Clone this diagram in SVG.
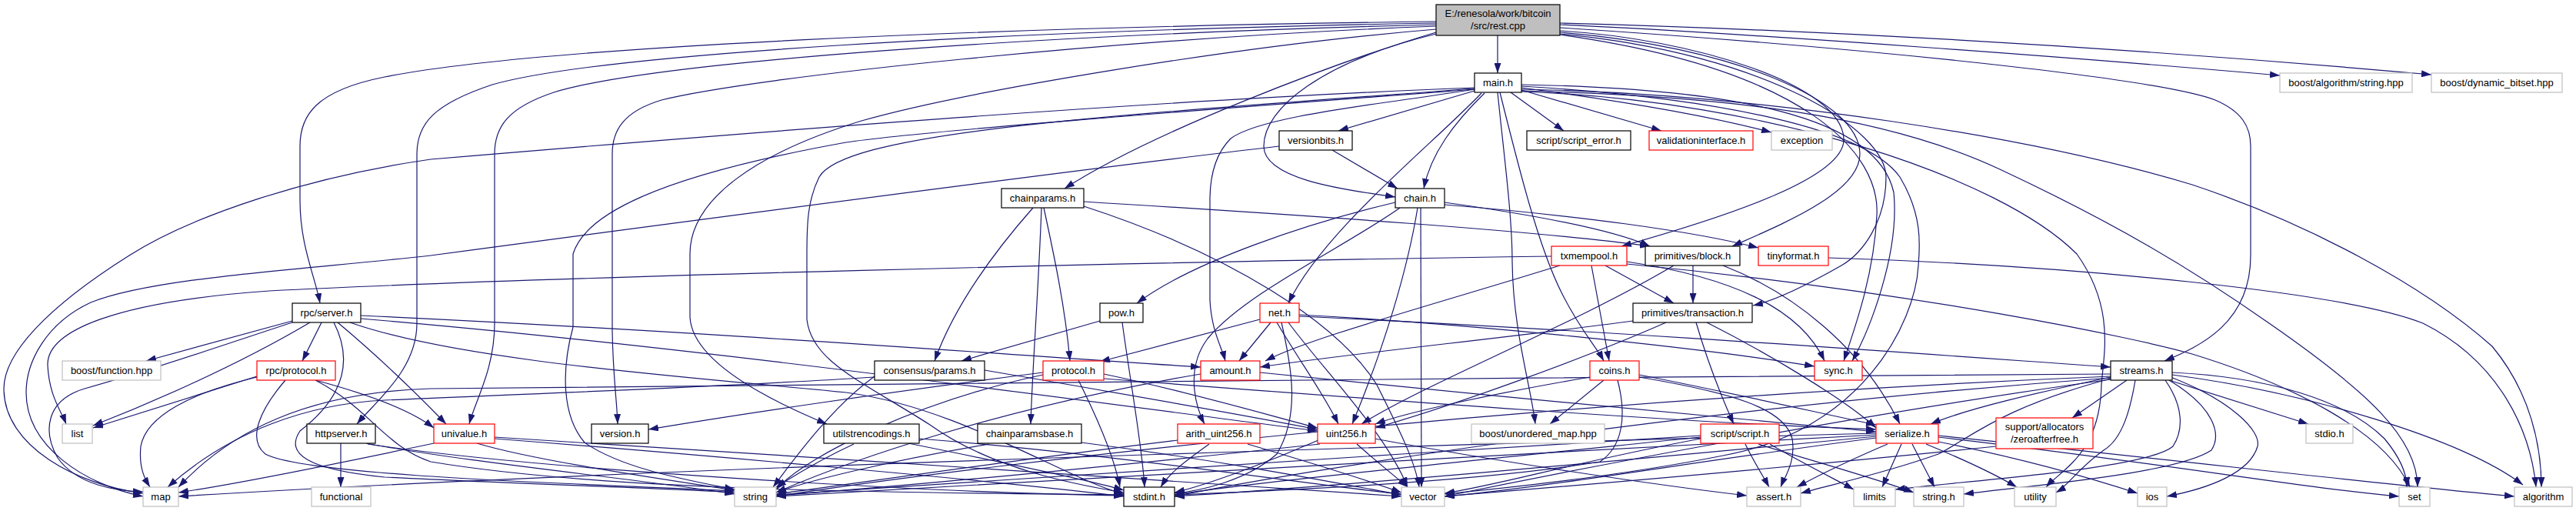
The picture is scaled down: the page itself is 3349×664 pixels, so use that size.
<svg xmlns="http://www.w3.org/2000/svg" width="3349" height="664" viewBox="0 0 3349 664">
<defs>
<marker id="ah" viewBox="0 0 13 9" refX="13" refY="4.5" markerWidth="13" markerHeight="9" markerUnits="userSpaceOnUse" orient="auto"><path d="M0,0 L13,4.5 L0,9 z" fill="#191970"/></marker>
</defs>
<style>
.e path{fill:none;stroke:#191970;stroke-width:1.2;marker-end:url(#ah)}
rect{fill:#fff;stroke:#000;stroke-width:1.2}
.r rect{stroke:#ff0000}
.g rect{stroke:#bfbfbf}
.root rect{fill:#bfbfbf}
text{font-family:"Liberation Sans",Arial,sans-serif;font-size:13px;text-anchor:middle;fill:#000}
</style>
<rect x="0" y="0" width="3349" height="664" style="fill:#fff;stroke:none"/>
<g class="e" id="edges">
<path d="M1947,46 L1947,95"/>
<path d="M1867,42 C1740,80 1500,170 1384,245"/>
<path d="M1867,44 C1720,80 1643,140 1643,190 C1643,235 1760,248 1814,256"/>
<path d="M1867,28 C1300,35 700,60 500,100 C410,118 390,150 390,190 L390,260 C390,320 410,360 416,394"/>
<path d="M1867,30 C1300,40 780,70 640,110 C565,135 542,160 542,200 L542,420 C542,480 490,520 464,551"/>
<path d="M1867,32 C1350,45 850,80 720,120 C660,140 643,165 643,200 L643,420 C643,480 618,520 610,551"/>
<path d="M1867,34 C1450,50 980,100 860,130 C810,145 796,170 796,200 L796,430 C797,490 802,520 803,551"/>
<path d="M1867,38 C1600,60 1250,120 1120,157 C980,200 897,260 897,330 L897,412 C900,470 1000,520 1075,551"/>
<path d="M2028,40 C2200,50 2394,110 2397,180 C2400,230 2250,280 2108,320"/>
<path d="M2028,42 C2250,60 2418,130 2418,200 C2418,250 2320,290 2252,320"/>
<path d="M2028,44 C2300,70 2452,170 2452,230 C2452,290 2420,330 2394,345 C2350,370 2310,390 2279,397"/>
<path d="M2028,45 C2350,90 2445,200 2440,280 C2436,360 2410,430 2397,469"/>
<path d="M2028,36 C2400,60 2800,100 2880,130 C2915,145 2926,165 2926,190 L2926,332 C2926,420 2860,450 2814,469"/>
<path d="M2028,32 C2300,45 2700,75 2964,98"/>
<path d="M2028,30 C2400,40 2800,65 3161,97"/>
<path d="M1917,118 L1740,170"/>
<path d="M1930,121 C1890,160 1860,200 1851,245"/>
<path d="M1964,120 L2033,170"/>
<path d="M1978,117 L2160,170"/>
<path d="M1978,114 C2100,130 2220,150 2303,172"/>
<path d="M1917,116 C1800,135 1640,150 1600,180 C1580,200 1573,230 1573,260 L1573,390 C1575,430 1588,450 1593,469"/>
<path d="M1926,121 C1860,190 1720,300 1675,394"/>
<path d="M1947,120 C1955,200 1966,280 1966,340 C1967,430 1990,500 1996,551"/>
<path d="M1950,120 C1975,220 2000,320 2030,380 C2055,430 2075,450 2085,469"/>
<path d="M1978,110 C2250,115 2440,150 2462,250 C2470,330 2430,430 2408,469"/>
<path d="M1978,112 C2200,125 2420,160 2470,230 C2500,280 2496,320 2494,345 C2490,420 2420,560 2240,592 C2100,620 1950,635 1878,642"/>
<path d="M1917,114 C1500,130 1000,170 560,207 C400,230 250,280 168,332 C60,400 5,460 5,505 C5,580 100,630 186,641"/>
<path d="M1917,116 C1600,140 1200,170 1100,185 C850,230 760,280 745,330 L745,425 C730,480 730,540 760,575 C810,610 900,625 955,636"/>
<path d="M1917,115 C1450,150 1100,170 1065,230 C1050,260 1049,290 1049,330 L1049,415 C1055,470 1120,495 1209,552 C1290,610 1400,630 1461,640"/>
<path d="M1978,118 C2250,125 2450,150 2600,220 C2750,290 2850,350 2950,420 C3080,510 3143,570 3143,633"/>
<path d="M1978,116 C2300,122 2650,180 2850,240 C3000,290 3150,370 3240,450 C3290,510 3304,580 3304,633"/>
<path d="M1978,119 C2300,130 2600,230 2700,330 C2750,400 2735,460 2732,500 C2730,590 2680,610 2660,633"/>
<path d="M1732,195 L1817,245"/>
<path d="M1663,190 C1400,220 800,300 560,332 C400,350 200,360 118,393 C60,420 34,470 34,510 C34,580 110,630 186,645"/>
<path d="M1343,270 C1290,330 1240,400 1215,469"/>
<path d="M1357,270 C1370,330 1385,400 1391,469"/>
<path d="M1354,270 C1350,380 1342,480 1340,551"/>
<path d="M1409,262 C1700,280 2000,300 2145,320"/>
<path d="M1409,268 C1600,330 1740,420 1790,500 C1820,560 1840,600 1845,633"/>
<path d="M1814,263 C1700,290 1550,340 1478,394"/>
<path d="M1820,270 C1750,320 1620,380 1570,440 C1540,480 1555,530 1566,551"/>
<path d="M1843,270 C1830,350 1800,450 1758,551"/>
<path d="M1847,270 L1848,633"/>
<path d="M1878,263 C2000,280 2100,300 2145,320"/>
<path d="M1878,266 C2050,280 2200,300 2286,322"/>
<path d="M2017,333 C1500,340 700,360 350,378 C150,392 60,430 62,475 C64,515 80,535 86,551"/>
<path d="M2028,345 C1850,400 1700,440 1645,469"/>
<path d="M2069,345 L2092,469"/>
<path d="M2087,345 L2176,394"/>
<path d="M2115,340 C2250,360 2340,400 2372,469"/>
<path d="M2115,343 C2500,380 2780,440 2850,460 C2980,500 3100,560 3133,633"/>
<path d="M2201,345 L2201,394"/>
<path d="M2176,345 C2050,420 1850,500 1770,551"/>
<path d="M2240,345 C2330,380 2420,450 2470,551"/>
<path d="M2377,335 C2700,345 3050,380 3150,420 C3250,470 3290,560 3297,633"/>
<path d="M1430,417 L1250,469"/>
<path d="M1459,419 C1470,500 1485,580 1488,633"/>
<path d="M1638,415 L1430,470"/>
<path d="M1652,419 L1611,469"/>
<path d="M1660,419 C1690,470 1720,510 1740,551"/>
<path d="M1666,419 C1680,480 1690,540 1660,590 C1620,625 1560,638 1527,641"/>
<path d="M1689,409 C1900,420 2200,450 2359,476"/>
<path d="M1689,411 C2100,430 2500,460 2744,477"/>
<path d="M1675,419 C1720,480 1800,560 1830,633"/>
<path d="M2123,417 C1950,440 1750,460 1638,477"/>
<path d="M2205,419 C2220,470 2240,520 2254,551"/>
<path d="M2219,419 C2300,460 2400,520 2439,556"/>
<path d="M2166,419 C2050,470 1880,530 1788,556"/>
<path d="M380,417 L190,469"/>
<path d="M418,419 L393,469"/>
<path d="M403,419 C300,480 180,530 121,553"/>
<path d="M380,419 C300,445 200,480 110,505 C60,520 55,560 75,595 C100,630 150,638 186,639"/>
<path d="M439,419 C500,470 550,520 580,551"/>
<path d="M434,419 C455,460 455,510 390,560 C370,590 400,610 500,620 C700,630 880,635 955,640"/>
<path d="M455,419 C600,470 900,490 1100,510 C1250,530 1380,620 1461,642"/>
<path d="M469,410 C900,430 1300,460 1561,477"/>
<path d="M469,414 C900,450 1400,520 1713,560"/>
<path d="M334,489 L121,556"/>
<path d="M334,490 C250,510 190,540 183,580 C180,610 190,625 195,633"/>
<path d="M410,494 C470,510 530,530 564,556"/>
<path d="M371,494 C340,530 320,570 345,590 C400,620 800,630 955,638"/>
<path d="M410,494 C480,530 500,580 560,600 C800,640 1200,640 1461,643"/>
<path d="M443,576 L443,633"/>
<path d="M476,576 C600,600 850,625 955,642"/>
<path d="M478,577 C700,610 1200,640 1461,644"/>
<path d="M564,576 C450,600 300,630 232,640"/>
<path d="M620,576 C700,600 880,625 955,637"/>
<path d="M643,570 C900,590 1300,625 1461,645"/>
<path d="M643,568 C1000,590 1600,630 1822,645"/>
<path d="M1110,577 C1060,600 1030,620 1009,633"/>
<path d="M1181,576 C1300,600 1420,625 1461,637"/>
<path d="M1195,570 C1450,590 1700,630 1822,642"/>
<path d="M1286,577 C1150,600 1050,625 1009,640"/>
<path d="M1406,575 C1600,600 1750,630 1822,643"/>
<path d="M1137,490 C900,505 600,515 500,520 C400,525 300,560 218,633"/>
<path d="M1137,489 C1080,530 1030,600 1005,633"/>
<path d="M1280,481 C1450,510 1620,540 1713,558"/>
<path d="M1356,487 C1200,520 1050,590 1009,636"/>
<path d="M1402,494 C1430,550 1450,600 1456,633"/>
<path d="M1435,486 C1550,510 1650,540 1713,556"/>
<path d="M1435,492 C1800,520 2200,550 2439,558"/>
<path d="M1356,484 C1150,510 950,540 843,558"/>
<path d="M1638,484 C1900,510 2250,545 2439,561"/>
<path d="M1561,486 C1300,530 1100,600 1009,640"/>
<path d="M2085,494 L2015,551"/>
<path d="M2067,490 C1950,510 1830,535 1788,551"/>
<path d="M2131,487 C2250,510 2380,540 2439,552"/>
<path d="M2131,490 C2250,510 2320,530 2330,570 C2335,600 2320,620 2315,633"/>
<path d="M2103,494 C2115,540 2110,580 2080,600 C1900,630 1600,640 1527,643"/>
<path d="M2765,494 L2694,543"/>
<path d="M2744,490 C2650,510 2560,530 2510,551"/>
<path d="M2744,492 C2600,530 2560,570 2520,590 C2450,615 2380,630 2341,641"/>
<path d="M2815,494 C2840,530 2838,560 2825,580 C2790,610 2550,625 2464,636"/>
<path d="M2820,494 C2880,530 2888,565 2875,585 C2830,615 2650,630 2553,642"/>
<path d="M2776,494 C2770,530 2760,570 2735,585 C2700,610 2690,630 2673,640"/>
<path d="M2822,490 C2900,520 2940,560 2935,580 C2925,615 2870,635 2817,645"/>
<path d="M2823,495 L3001,551"/>
<path d="M2824,484 C2950,490 3050,520 3100,570 C3125,600 3129,620 3129,633"/>
<path d="M2824,487 C3000,510 3200,570 3280,630"/>
<path d="M2744,486 C2000,490 1000,500 560,505 C400,510 300,560 232,633"/>
<path d="M2744,489 C2000,520 1300,600 1009,645"/>
<path d="M2744,491 C2200,530 1700,610 1527,645"/>
<path d="M2744,493 C2400,540 2000,620 1878,645"/>
<path d="M2269,577 C2280,600 2293,620 2300,633"/>
<path d="M2301,577 C2340,600 2390,625 2410,636"/>
<path d="M2286,577 C2360,600 2450,625 2488,640"/>
<path d="M2211,566 C1800,590 1300,625 1009,643"/>
<path d="M2211,568 C1900,600 1600,630 1527,643"/>
<path d="M2211,570 C2050,600 1950,630 1878,641"/>
<path d="M2454,577 C2400,600 2360,620 2336,633"/>
<path d="M2472,577 L2447,633"/>
<path d="M2486,577 L2515,633"/>
<path d="M2504,577 C2560,600 2600,620 2622,633"/>
<path d="M2520,574 C2650,600 2730,625 2779,641"/>
<path d="M2520,568 C2800,600 3000,635 3119,645"/>
<path d="M2520,566 C2850,600 3100,630 3269,645"/>
<path d="M2439,563 C1800,580 800,610 232,645"/>
<path d="M2439,565 C2000,590 1300,625 1009,645"/>
<path d="M2439,567 C2100,600 1700,635 1527,645"/>
<path d="M2439,569 C2200,600 2000,635 1878,645"/>
<path d="M2595,580 C2300,610 2000,635 1878,645"/>
<path d="M1531,572 C1300,600 1100,630 1009,642"/>
<path d="M1572,577 C1540,600 1520,615 1509,633"/>
<path d="M1622,577 C1700,600 1780,625 1822,640"/>
<path d="M1716,577 C1500,600 1200,630 1009,644"/>
<path d="M1714,572 C1650,600 1570,630 1527,640"/>
<path d="M1764,577 C1790,600 1815,620 1830,633"/>
<path d="M1787,570 C1950,600 2150,630 2271,644"/>
</g>
<g id="root" class="root"><rect x="1867" y="6" width="161" height="40"/><text x="1947.5" y="22">E:/renesola/work/bitcoin</text><text x="1947.5" y="38">/src/rest.cpp</text></g>
<g id="main"><rect x="1917" y="95" width="61" height="25"/><text x="1947.5" y="112">main.h</text></g>
<g id="algstr" class="g"><rect x="2964" y="95" width="172" height="25"/><text x="3050" y="112">boost/algorithm/string.hpp</text></g>
<g id="dynbit" class="g"><rect x="3161" y="95" width="170" height="25"/><text x="3246" y="112">boost/dynamic_bitset.hpp</text></g>
<g id="versionbits"><rect x="1663" y="170" width="95" height="25"/><text x="1710.5" y="187">versionbits.h</text></g>
<g id="script_error"><rect x="1985" y="170" width="135" height="25"/><text x="2052.5" y="187">script/script_error.h</text></g>
<g id="valint" class="r"><rect x="2144" y="170" width="135" height="25"/><text x="2211.5" y="187">validationinterface.h</text></g>
<g id="exception" class="g"><rect x="2303" y="170" width="79" height="25"/><text x="2342.5" y="187">exception</text></g>
<g id="chainparams"><rect x="1302" y="245" width="107" height="25"/><text x="1355.5" y="262">chainparams.h</text></g>
<g id="chain"><rect x="1814" y="245" width="64" height="25"/><text x="1846" y="262">chain.h</text></g>
<g id="txmempool" class="r"><rect x="2017" y="320" width="98" height="25"/><text x="2066" y="337">txmempool.h</text></g>
<g id="block"><rect x="2139" y="320" width="123" height="25"/><text x="2200.5" y="337">primitives/block.h</text></g>
<g id="tinyformat" class="r"><rect x="2286" y="320" width="91" height="25"/><text x="2331.5" y="337">tinyformat.h</text></g>
<g id="rpcserver"><rect x="380" y="394" width="89" height="25"/><text x="424.5" y="411">rpc/server.h</text></g>
<g id="pow"><rect x="1430" y="394" width="56" height="25"/><text x="1458" y="411">pow.h</text></g>
<g id="net" class="r"><rect x="1638" y="394" width="51" height="25"/><text x="1663.5" y="411">net.h</text></g>
<g id="tx"><rect x="2123" y="394" width="155" height="25"/><text x="2200.5" y="411">primitives/transaction.h</text></g>
<g id="boostfn" class="g"><rect x="81" y="469" width="128" height="25"/><text x="145" y="486">boost/function.hpp</text></g>
<g id="rpcproto" class="r"><rect x="334" y="469" width="102" height="25"/><text x="385" y="486">rpc/protocol.h</text></g>
<g id="params"><rect x="1137" y="469" width="143" height="25"/><text x="1208.5" y="486">consensus/params.h</text></g>
<g id="protocol" class="r"><rect x="1356" y="469" width="79" height="25"/><text x="1395.5" y="486">protocol.h</text></g>
<g id="amount" class="r"><rect x="1561" y="469" width="77" height="25"/><text x="1599.5" y="486">amount.h</text></g>
<g id="coins" class="r"><rect x="2067" y="469" width="64" height="25"/><text x="2099" y="486">coins.h</text></g>
<g id="sync" class="r"><rect x="2359" y="469" width="62" height="25"/><text x="2390" y="486">sync.h</text></g>
<g id="streams"><rect x="2744" y="469" width="80" height="25"/><text x="2784" y="486">streams.h</text></g>
<g id="list" class="g"><rect x="81" y="551" width="39" height="25"/><text x="100.5" y="568">list</text></g>
<g id="httpserver"><rect x="399" y="551" width="89" height="25"/><text x="443.5" y="568">httpserver.h</text></g>
<g id="univalue" class="r"><rect x="564" y="551" width="79" height="25"/><text x="603.5" y="568">univalue.h</text></g>
<g id="version"><rect x="769" y="551" width="74" height="25"/><text x="806" y="568">version.h</text></g>
<g id="utilstr"><rect x="1071" y="551" width="124" height="25"/><text x="1133" y="568">utilstrencodings.h</text></g>
<g id="cpbase"><rect x="1271" y="551" width="135" height="25"/><text x="1338.5" y="568">chainparamsbase.h</text></g>
<g id="arith" class="r"><rect x="1531" y="551" width="107" height="25"/><text x="1584.5" y="568">arith_uint256.h</text></g>
<g id="uint256" class="r"><rect x="1713" y="551" width="75" height="25"/><text x="1750.5" y="568">uint256.h</text></g>
<g id="unordered" class="g"><rect x="1913" y="551" width="173" height="25"/><text x="1999.5" y="568">boost/unordered_map.hpp</text></g>
<g id="script" class="r"><rect x="2211" y="551" width="102" height="25"/><text x="2262" y="568">script/script.h</text></g>
<g id="serialize" class="r"><rect x="2439" y="551" width="81" height="25"/><text x="2479.5" y="568">serialize.h</text></g>
<g id="zaf" class="r"><rect x="2595" y="543" width="126" height="40"/><text x="2658" y="559">support/allocators</text><text x="2658" y="575">/zeroafterfree.h</text></g>
<g id="stdio" class="g"><rect x="2998" y="551" width="61" height="25"/><text x="3028.5" y="568">stdio.h</text></g>
<g id="map" class="g"><rect x="186" y="633" width="46" height="25"/><text x="209" y="650">map</text></g>
<g id="functional" class="g"><rect x="405" y="633" width="77" height="25"/><text x="443.5" y="650">functional</text></g>
<g id="string" class="g"><rect x="955" y="633" width="54" height="25"/><text x="982" y="650">string</text></g>
<g id="stdint"><rect x="1461" y="633" width="66" height="25"/><text x="1494" y="650">stdint.h</text></g>
<g id="vector" class="g"><rect x="1822" y="633" width="56" height="25"/><text x="1850" y="650">vector</text></g>
<g id="assert" class="g"><rect x="2271" y="633" width="70" height="25"/><text x="2306" y="650">assert.h</text></g>
<g id="limits" class="g"><rect x="2410" y="633" width="54" height="25"/><text x="2437" y="650">limits</text></g>
<g id="stringh" class="g"><rect x="2488" y="633" width="65" height="25"/><text x="2520.5" y="650">string.h</text></g>
<g id="utility" class="g"><rect x="2619" y="633" width="54" height="25"/><text x="2646" y="650">utility</text></g>
<g id="ios" class="g"><rect x="2779" y="633" width="38" height="25"/><text x="2798" y="650">ios</text></g>
<g id="set" class="g"><rect x="3119" y="633" width="40" height="25"/><text x="3139" y="650">set</text></g>
<g id="algorithm" class="g"><rect x="3269" y="633" width="75" height="25"/><text x="3306.5" y="650">algorithm</text></g>
</svg>
